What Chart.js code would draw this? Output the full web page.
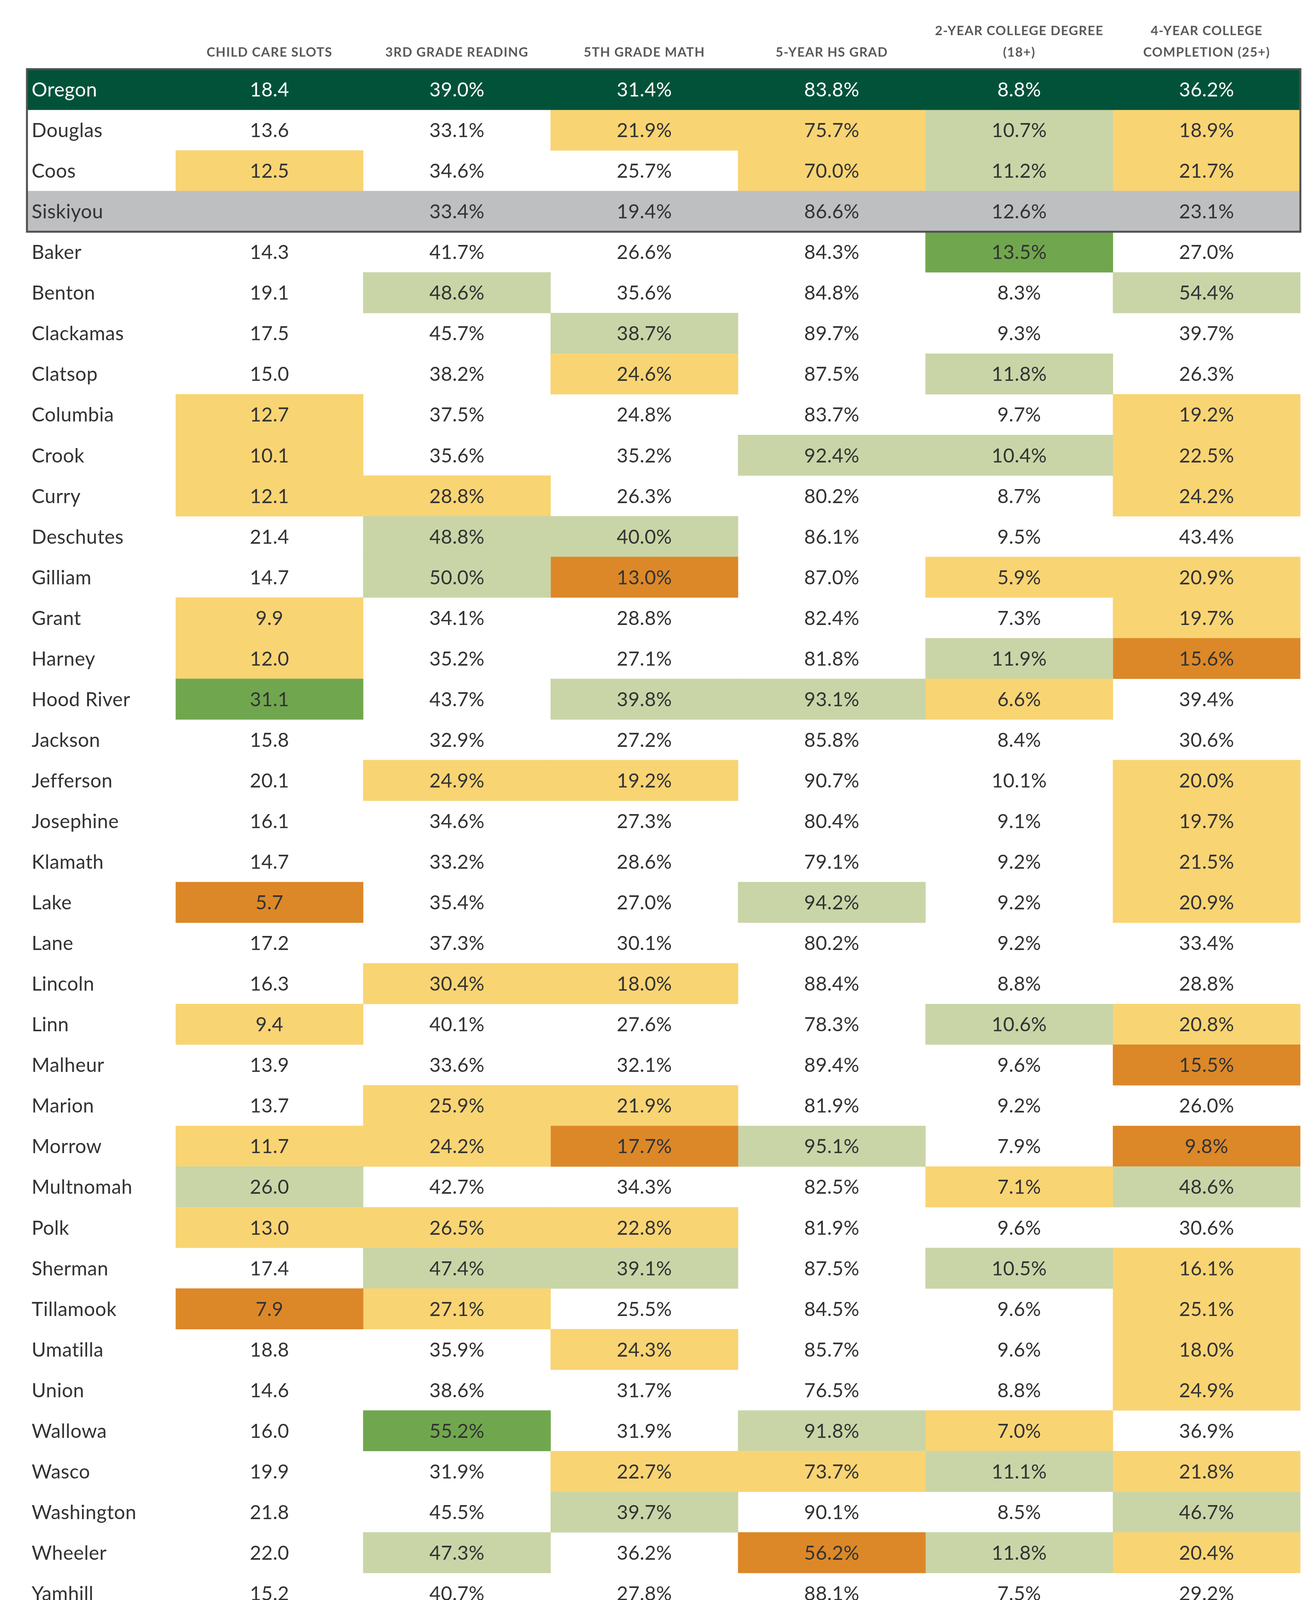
<!DOCTYPE html>
<html>
<head>
<meta charset="utf-8">
<script src="https://cdn.jsdelivr.net/npm/chart.js@4.4.1/dist/chart.umd.min.js"></script>
<style>
  html, body { margin: 0; padding: 0; background: #ffffff; }
  #wrap { width: 3370px; height: 4170px; }
</style>
</head>
<body>
<div id="wrap"><canvas id="chart-1" width="3370" height="4170"></canvas></div>
<script>
const counties = [
  "Oregon", "Douglas", "Coos", "Siskiyou", "Baker", "Benton", "Clackamas",
  "Clatsop", "Columbia", "Crook", "Curry", "Deschutes", "Gilliam", "Grant",
  "Harney", "Hood River", "Jackson", "Jefferson", "Josephine", "Klamath",
  "Lake", "Lane", "Lincoln", "Linn", "Malheur", "Marion", "Morrow",
  "Multnomah", "Polk", "Sherman", "Tillamook", "Umatilla", "Union",
  "Wallowa", "Wasco", "Washington", "Wheeler", "Yamhill",
];

const headers = [
  ["CHILD CARE SLOTS"],
  ["3RD GRADE READING"],
  ["5TH GRADE MATH"],
  ["5-YEAR HS GRAD"],
  ["2-YEAR COLLEGE DEGREE", "(18+)"],
  ["4-YEAR COLLEGE", "COMPLETION (25+)"],
];

const childCare = [18.4, 13.6, 12.5, null, 14.3, 19.1, 17.5, 15.0, 12.7, 10.1, 12.1, 21.4, 14.7, 9.9, 12.0, 31.1, 15.8, 20.1, 16.1, 14.7, 5.7, 17.2, 16.3, 9.4, 13.9, 13.7, 11.7, 26.0, 13.0, 17.4, 7.9, 18.8, 14.6, 16.0, 19.9, 21.8, 22.0, 15.2];
const reading = [39.0, 33.1, 34.6, 33.4, 41.7, 48.6, 45.7, 38.2, 37.5, 35.6, 28.8, 48.8, 50.0, 34.1, 35.2, 43.7, 32.9, 24.9, 34.6, 33.2, 35.4, 37.3, 30.4, 40.1, 33.6, 25.9, 24.2, 42.7, 26.5, 47.4, 27.1, 35.9, 38.6, 55.2, 31.9, 45.5, 47.3, 40.7];
const math = [31.4, 21.9, 25.7, 19.4, 26.6, 35.6, 38.7, 24.6, 24.8, 35.2, 26.3, 40.0, 13.0, 28.8, 27.1, 39.8, 27.2, 19.2, 27.3, 28.6, 27.0, 30.1, 18.0, 27.6, 32.1, 21.9, 17.7, 34.3, 22.8, 39.1, 25.5, 24.3, 31.7, 31.9, 22.7, 39.7, 36.2, 27.8];
const hsGrad = [83.8, 75.7, 70.0, 86.6, 84.3, 84.8, 89.7, 87.5, 83.7, 92.4, 80.2, 86.1, 87.0, 82.4, 81.8, 93.1, 85.8, 90.7, 80.4, 79.1, 94.2, 80.2, 88.4, 78.3, 89.4, 81.9, 95.1, 82.5, 81.9, 87.5, 84.5, 85.7, 76.5, 91.8, 73.7, 90.1, 56.2, 88.1];
const twoYear = [8.8, 10.7, 11.2, 12.6, 13.5, 8.3, 9.3, 11.8, 9.7, 10.4, 8.7, 9.5, 5.9, 7.3, 11.9, 6.6, 8.4, 10.1, 9.1, 9.2, 9.2, 9.2, 8.8, 10.6, 9.6, 9.2, 7.9, 7.1, 9.6, 10.5, 9.6, 9.6, 8.8, 7.0, 11.1, 8.5, 11.8, 7.5];
const fourYear = [36.2, 18.9, 21.7, 23.1, 27.0, 54.4, 39.7, 26.3, 19.2, 22.5, 24.2, 43.4, 20.9, 19.7, 15.6, 39.4, 30.6, 20.0, 19.7, 21.5, 20.9, 33.4, 28.8, 20.8, 15.5, 26.0, 9.8, 48.6, 30.6, 16.1, 25.1, 18.0, 24.9, 36.9, 21.8, 46.7, 20.4, 29.2];

// [orange below, yellow below, light green from, green from]
const cutoffs = [
  [9, 13.3, 24, 28],
  [20, 31, 47, 52],
  [18, 24.7, 38, 99],
  [65, 76, 91, 999],
  [5, 7.2, 10.3, 13],
  [16, 25.5, 46, 99],
];

const columns = [childCare, reading, math, hsGrad, twoYear, fourYear];
const percent = [false, true, true, true, true, true];

const NAME_W = 0.794;
const FONT = "Lato, 'Open Sans', sans-serif";
const CLEAR = "rgba(0,0,0,0)";

function tierColor(c, v) {
  if (v === null) return CLEAR;
  const t = cutoffs[c];
  if (v < t[0]) return "#dc8828";
  if (v < t[1]) return "#f9d473";
  if (v >= t[3]) return "#70a74e";
  if (v >= t[2]) return "#c9d5a7";
  return CLEAR;
}

const rowFill = { Oregon: "#02523a", Siskiyou: "#bebfc1" };

const datasets = [
  {
    label: "row",
    data: counties.map((n) => (rowFill[n] ? [-NAME_W, 6] : [0, 0])),
    backgroundColor: counties.map((n) => rowFill[n] || CLEAR),
  },
];
columns.forEach((col, c) => {
  datasets.push({
    label: headers[c].join(" "),
    data: col.map(() => [c, c + 1]),
    backgroundColor: col.map((v, i) =>
      rowFill[counties[i]] ? CLEAR : tierColor(c, v)
    ),
  });
});

const tablePlugin = {
  id: "tableText",
  afterDatasetsDraw(chart) {
    const ctx = chart.ctx;
    const xs = chart.scales.x;
    const ys = chart.scales.y;
    const area = chart.chartArea;
    ctx.save();

    // headers
    ctx.fillStyle = "#58595b";
    ctx.textAlign = "center";
    ctx.textBaseline = "alphabetic";
    ctx.font = "bold 33px " + FONT;
    ctx.letterSpacing = "1.5px";
    headers.forEach((lines, c) => {
      const cx = xs.getPixelForValue(c + 0.5);
      const n = lines.length;
      lines.forEach((line, k) => {
        ctx.fillText(line, cx, 145 - (n - 1 - k) * 55);
      });
    });

    // cells
    const fs = 50;
    ctx.letterSpacing = "0.5px";
    counties.forEach((name, i) => {
      const cy = ys.getPixelForValue(i) + fs * 0.36;
      ctx.fillStyle = name === "Oregon" ? "#ffffff" : "#333333";
      ctx.font = fs + "px " + FONT;
      ctx.textAlign = "left";
      ctx.fillText(name, area.left + 12, cy);
      ctx.textAlign = "center";
      columns.forEach((col, c) => {
        const v = col[i];
        if (v === null) return;
        const txt = v.toFixed(1) + (percent[c] ? "%" : "");
        ctx.fillText(txt, xs.getPixelForValue(c + 0.5), cy);
      });
    });

    // border around the comparison rows
    const h = ys.getPixelForValue(1) - ys.getPixelForValue(0);
    const top = ys.getPixelForValue(0) - h / 2;
    const bottom = ys.getPixelForValue(3) + h / 2;
    ctx.strokeStyle = "#505050";
    ctx.lineWidth = 5;
    ctx.strokeRect(area.left, top, area.right - area.left, bottom - top);
    ctx.restore();
  },
};

const config = {
  type: "bar",
  data: { labels: counties, datasets: datasets },
  options: {
    indexAxis: "y",
    responsive: false,
    animation: false,
    devicePixelRatio: 1,
    layout: { padding: { left: 69, right: 40, top: 177, bottom: 39 } },
    datasets: {
      bar: {
        grouped: false,
        barPercentage: 1,
        categoryPercentage: 1,
        borderWidth: 0,
        borderSkipped: false,
      },
    },
    scales: {
      x: { type: "linear", min: -NAME_W, max: 6, display: false },
      y: { type: "category", display: false, offset: true },
    },
    plugins: {
      legend: { display: false },
      tooltip: { enabled: false },
    },
  },
  plugins: [tablePlugin],
};

new Chart(document.getElementById("chart-1"), config);
</script>
</body>
</html>
